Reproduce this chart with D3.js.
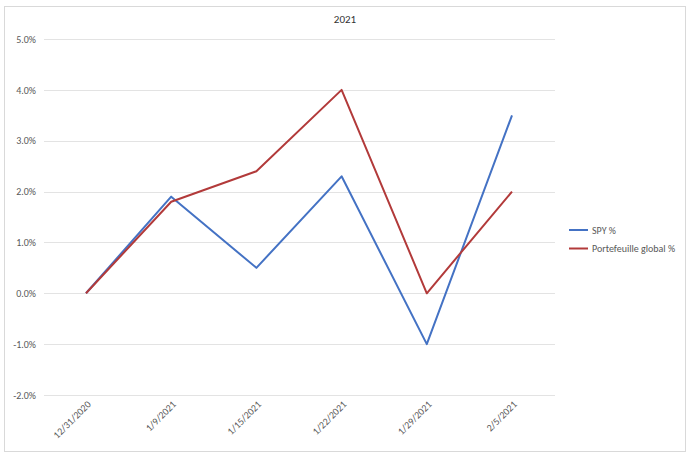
<!DOCTYPE html>
<html><head><meta charset="utf-8">
<script src="https://cdn.jsdelivr.net/npm/d3@7"></script>
<style>body{margin:0;background:#fff;} svg{display:block;font-family:Carlito,Calibri,"Liberation Sans",Arial,sans-serif;}</style>
</head><body>
<svg id="c" width="690" height="453"></svg>
<script>
const categories = ["12/31/2020","1/9/2021","1/15/2021","1/22/2021","1/29/2021","2/5/2021"];
const spy = [0.0, 1.9, 0.5, 2.3, -1.0, 3.5];
const portefeuille = [0.0, 1.8, 2.4, 4.0, 0.0, 2.0];
const yTicks = [-2, -1, 0, 1, 2, 3, 4, 5];
const seriesNames = ["SPY %", "Portefeuille global %"];
const colors = ["#4472C4", "#B23A3A"];

const svg = d3.select("#c");
svg.append("rect").attr("x",4.5).attr("y",6.5).attr("width",681).attr("height",445)
  .attr("fill","#fff").attr("stroke","#d9d9d9");

const x = d3.scalePoint().domain(categories).range([86, 512]);
const y = d3.scaleLinear().domain([-2, 5]).range([395, 39]);

const gGrid = svg.append("g");
gGrid.selectAll("line").data(yTicks).join("line")
  .attr("x1",44).attr("x2",555)
  .attr("y1",d=>Math.round(y(d))+0.5).attr("y2",d=>Math.round(y(d))+0.5)
  .attr("stroke","#e3e3e3").attr("stroke-width",1);

const yAxis = svg.append("g").attr("transform","translate(44,0)")
  .call(d3.axisLeft(y).tickValues(yTicks).tickFormat(d=>d.toFixed(1)+"%").tickSize(0).tickPadding(8));
yAxis.select(".domain").remove();
yAxis.selectAll("text").attr("fill","#595959").attr("font-size","10px")
  .attr("font-family","Carlito,Calibri,'Liberation Sans',Arial,sans-serif");

const xAxis = svg.append("g").attr("transform","translate(0,395)")
  .call(d3.axisBottom(x).tickSize(0).tickPadding(0));
xAxis.select(".domain").remove();
xAxis.selectAll("text").attr("fill","#595959").attr("font-size","10px")
  .attr("font-family","Carlito,Calibri,'Liberation Sans',Arial,sans-serif")
  .attr("text-anchor","end").attr("dy","0").attr("y",0)
  .attr("transform","translate(5,10) rotate(-45)");

const line = d3.line().x((d,i)=>x(categories[i])).y(d=>y(d));
[spy, portefeuille].forEach((s,i)=>{
  svg.append("path").datum(s).attr("d",line).attr("fill","none")
    .attr("stroke",colors[i]).attr("stroke-width",2).attr("stroke-linejoin","round");
});

svg.append("text").attr("x",345).attr("y",23).attr("text-anchor","middle")
  .attr("font-size","11px").attr("fill","#333").text("2021");

const leg = svg.append("g");
seriesNames.forEach((n,i)=>{
  const ly = 230 + i*18.5;
  leg.append("line").attr("x1",569).attr("x2",588).attr("y1",ly).attr("y2",ly)
    .attr("stroke",colors[i]).attr("stroke-width",2);
  leg.append("text").attr("x",592).attr("y",ly+3.5).attr("font-size","10px")
    .attr("fill","#595959").text(n);
});
</script>
</body></html>
